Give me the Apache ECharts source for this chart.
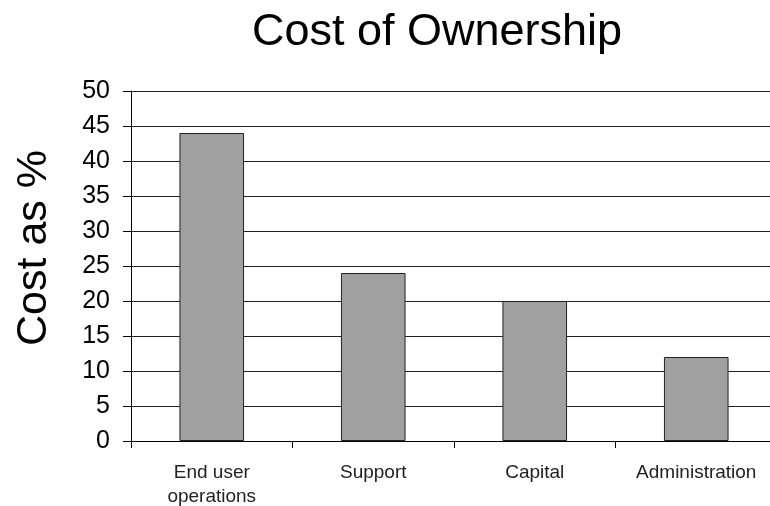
<!DOCTYPE html>
<html>
<head>
<meta charset="utf-8">
<script src="https://cdn.jsdelivr.net/npm/echarts@6/dist/echarts.min.js"></script>
<style>
  html, body { margin: 0; padding: 0; background: #fff; }
  #main { width: 770px; height: 506px; }
</style>
</head>
<body>
<div id="main"></div>
<script>
// categories and values
const categories = ['End user\noperations', 'Support', 'Capital', 'Administration'];
const costValues = [44, 24, 20, 12];
const yTicks = [0, 5, 10, 15, 20, 25, 30, 35, 40, 45, 50];

const myChart = echarts.init(document.getElementById('main'));

const option = {
  backgroundColor: '#fff',
  animation: false,
  title: {
    text: 'Cost of Ownership',
    left: 432,
    textAlign: 'center',
    top: 5,
    textStyle: {
      fontFamily: 'Liberation Sans',
      fontSize: 45,
      fontWeight: 'normal',
      color: '#000'
    }
  },
  grid: {
    left: 131,
    right: -7,
    top: 91,
    bottom: 65,
    containLabel: false,
    outerBoundsMode: 'none'
  },
  xAxis: {
    type: 'category',
    data: categories,
    axisLine: { lineStyle: { color: '#000', width: 1 } },
    axisTick: { show: true, length: 7, lineStyle: { color: '#000' } },
    axisLabel: {
      margin: 20,
      fontFamily: 'Liberation Sans',
      fontSize: 19,
      lineHeight: 24,
      color: '#222',
      interval: 0
    }
  },
  yAxis: {
    type: 'value',
    min: yTicks[0],
    max: yTicks[yTicks.length - 1],
    interval: 5,
    name: 'Cost as %',
    nameLocation: 'middle',
    nameGap: 75,
    nameMoveOverlap: false,
    nameRotate: 90,
    nameTextStyle: {
      fontFamily: 'Liberation Sans',
      fontSize: 43,
      color: '#000',
      padding: [0, 0, 0, 36]
    },
    axisLine: { show: true, lineStyle: { color: '#000', width: 1 } },
    axisTick: { show: true, length: 8, lineStyle: { color: '#000' } },
    axisLabel: {
      margin: 21,
      fontFamily: 'Liberation Sans',
      fontSize: 25,
      color: '#000'
    },
    splitLine: { show: true, lineStyle: { color: '#222', width: 1 } }
  },
  series: [
    {
      name: 'Cost',
      type: 'bar',
      data: costValues,
      barWidth: '40%',
      itemStyle: {
        color: '#a0a0a0',
        borderColor: '#222',
        borderWidth: 1
      }
    }
  ]
};

myChart.setOption(option);
</script>
</body>
</html>
